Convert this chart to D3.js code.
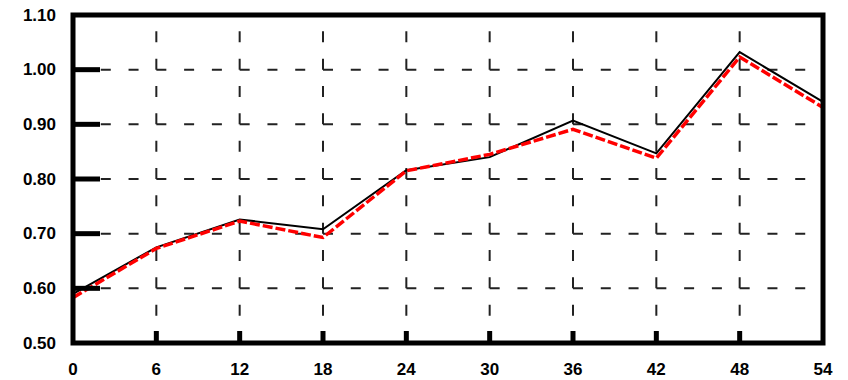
<!DOCTYPE html>
<html>
<head>
<meta charset="utf-8">
<script src="https://cdn.jsdelivr.net/npm/d3@7"></script>
<style>
  html, body { margin: 0; padding: 0; background: #fff; }
  svg { display: block; }
  .tick-label { font-family: "Liberation Sans", Arial, Helvetica, sans-serif; font-weight: bold; font-size: 17px; fill: #000; }
</style>
</head>
<body>
<svg id="chart" width="848" height="380"></svg>
<script>
// Hours on the x axis
const hours = [0, 6, 12, 18, 24, 30, 36, 42, 48, 54];
// Solid black series
const seriesSolid = [0.590, 0.675, 0.726, 0.708, 0.816, 0.840, 0.907, 0.847, 1.032, 0.941];
// Dashed red series
const seriesDashed = [0.583, 0.673, 0.723, 0.693, 0.815, 0.845, 0.891, 0.838, 1.023, 0.931];
// Axis ticks
const xTicks = [0, 6, 12, 18, 24, 30, 36, 42, 48, 54];
const yTicks = [0.5, 0.6, 0.7, 0.8, 0.9, 1.0, 1.1];

const svg = d3.select("#chart");
const plotLeft = 73, plotRight = 823, plotTop = 15, plotBottom = 343;

const x = d3.scaleLinear().domain([0, 54]).range([plotLeft, plotRight]);
const y = d3.scaleLinear().domain([0.5, 1.1]).range([plotBottom, plotTop]);

// Dashed grid
const innerX = xTicks.slice(1, -1);
const innerY = yTicks.slice(1, -1);
const stepX = (x(6) - x(0)) / 3;
const stepY = (y(0.5) - y(0.6)) / 2;

svg.append("g").selectAll("line").data(innerY).join("line")
  .attr("x1", x(0)).attr("x2", x(54))
  .attr("y1", d => y(d)).attr("y2", d => y(d))
  .attr("stroke", "#222").attr("stroke-width", 2)
  .attr("stroke-dasharray", `10,${stepX - 10}`);

svg.append("g").selectAll("line").data(innerX).join("line")
  .attr("x1", d => x(d)).attr("x2", d => x(d))
  .attr("y1", y(0.5)).attr("y2", y(1.1))
  .attr("stroke", "#222").attr("stroke-width", 2)
  .attr("stroke-dasharray", `11,${stepY - 11}`);

// Data lines
const line = d3.line().x((d, i) => x(hours[i])).y(d => y(d));

svg.append("path").datum(seriesSolid)
  .attr("d", line).attr("fill", "none")
  .attr("stroke", "#000").attr("stroke-width", 2);

svg.append("path").datum(seriesDashed)
  .attr("d", line).attr("fill", "none")
  .attr("stroke", "#ff0000").attr("stroke-width", 3.5)
  .attr("stroke-dasharray", "10,3");

// Inward major ticks
svg.append("g").selectAll("line").data(innerY).join("line")
  .attr("x1", x(0)).attr("x2", x(0) + 27)
  .attr("y1", d => y(d)).attr("y2", d => y(d))
  .attr("stroke", "#000").attr("stroke-width", 5);

svg.append("g").selectAll("line").data(innerX).join("line")
  .attr("x1", d => x(d)).attr("x2", d => x(d))
  .attr("y1", y(0.5)).attr("y2", y(0.5) - 12)
  .attr("stroke", "#000").attr("stroke-width", 5);

// Frame
svg.append("rect")
  .attr("x", plotLeft).attr("y", plotTop)
  .attr("width", plotRight - plotLeft).attr("height", plotBottom - plotTop)
  .attr("fill", "none").attr("stroke", "#000").attr("stroke-width", 5);

// Tick labels
svg.append("g").selectAll("text").data(yTicks).join("text")
  .attr("class", "tick-label")
  .attr("x", plotLeft - 17).attr("y", d => y(d))
  .attr("text-anchor", "end").attr("dominant-baseline", "central")
  .text(d => d3.format(".2f")(d));

svg.append("g").selectAll("text").data(xTicks).join("text")
  .attr("class", "tick-label")
  .attr("x", d => x(d)).attr("y", 375)
  .attr("text-anchor", "middle")
  .text(d => d);
</script>
</body>
</html>
